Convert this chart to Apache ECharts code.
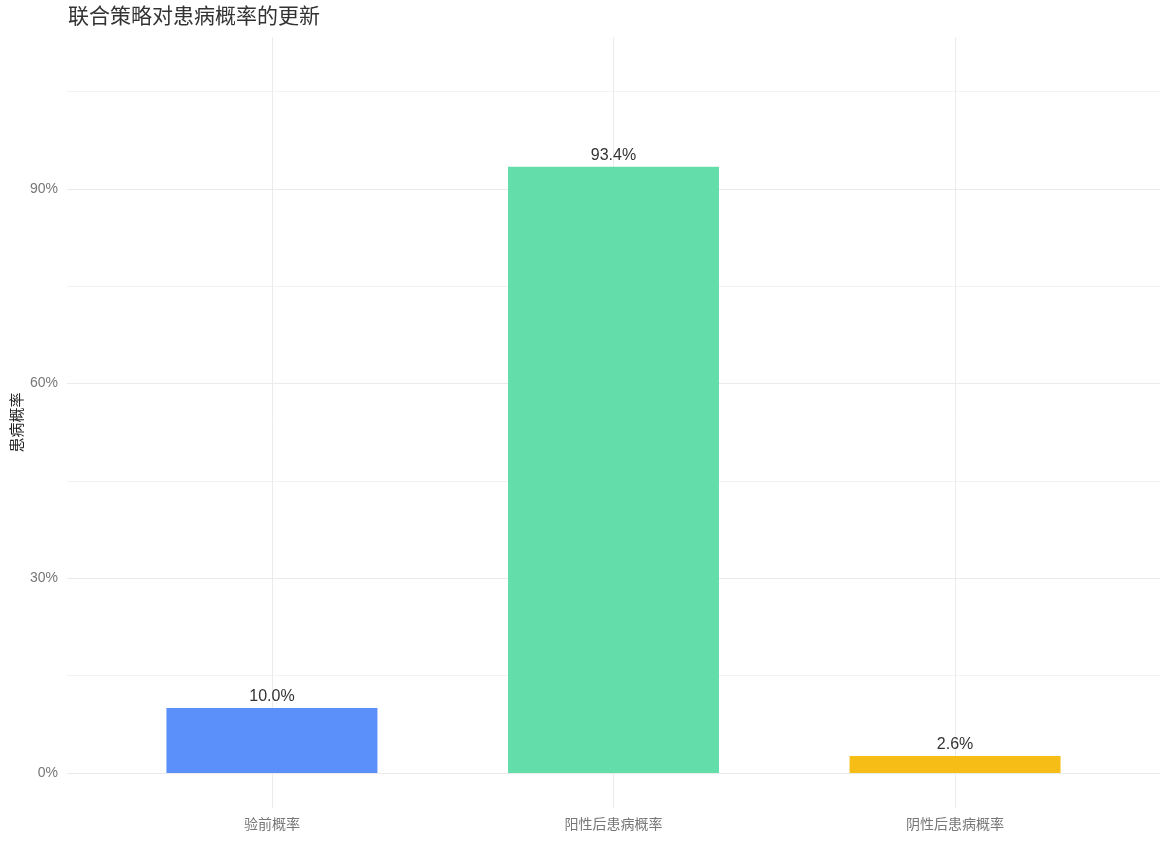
<!DOCTYPE html>
<html>
<head>
<meta charset="utf-8">
<script src="https://cdn.jsdelivr.net/npm/echarts@6/dist/echarts.min.js"></script>
<style>html,body{margin:0;padding:0;background:#fff;}#c{width:1171px;height:841px;}</style>
</head>
<body>
<div id="c"></div>
<script>
const categories = ['验前概率', '阳性后患病概率', '阴性后患病概率'];
const values = [10.0, 93.4, 2.6];
const barColors = ['#5B8FF9', '#63DEAA', '#F6BD16'];
const yMajorTicks = [0, 30, 60, 90];
const yMinorTicks = [15, 45, 75, 105];
const xPositions = categories.map((c, i) => i + 1);

const FONT = '"Liberation Sans", "Noto Sans CJK SC", sans-serif';
const chart = echarts.init(document.getElementById('c'));
chart.setOption({
  backgroundColor: '#fff',
  animation: false,
  textStyle: { fontFamily: FONT },
  title: {
    text: '联合策略对患病概率的更新',
    left: 63, top: 2,
    textStyle: { fontSize: 21, fontWeight: 'normal', color: '#333', fontFamily: FONT }
  },
  grid: { left: 67, right: 11, top: 37, bottom: 33, outerBoundsMode: 'none', containLabel: false },
  xAxis: {
    type: 'value', min: 0.4, max: 3.6,
    axisLine: { show: false },
    axisTick: { show: false, customValues: xPositions },
    axisLabel: {
      customValues: xPositions, margin: 10, fontSize: 14, color: '#777',
      formatter: v => categories[Math.round(v) - 1]
    },
    splitLine: { show: true, lineStyle: { color: '#EBEBEB', width: 1 } }
  },
  yAxis: [{
    type: 'value', min: -5.4, max: 113.4,
    axisLine: { show: false },
    axisTick: { show: false, customValues: yMajorTicks },
    axisLabel: { customValues: yMajorTicks, formatter: '{value}%', fontSize: 14, color: '#777', margin: 9 },
    splitLine: { show: true, lineStyle: { color: '#EBEBEB', width: 1.2 } }
  }, {
    type: 'value', min: -5.4, max: 113.4, position: 'left',
    name: '患病概率', nameLocation: 'middle', nameGap: 42, nameRotate: 90,
    nameTextStyle: { fontSize: 15, color: '#222', fontFamily: FONT },
    axisLine: { show: false },
    axisTick: { show: false, customValues: yMinorTicks },
    axisLabel: { show: false },
    splitLine: { show: true, lineStyle: { color: '#F2F2F2', width: 1 } }
  }],
  series: [{
    type: 'bar',
    barWidth: 211,
    data: values.map((v, i) => ({ value: [xPositions[i], v], itemStyle: { color: barColors[i] } })),
    label: {
      show: true, position: 'top', distance: 3,
      fontSize: 16, color: '#333', fontFamily: FONT,
      formatter: p => p.value[1].toFixed(1) + '%'
    }
  }]
});
</script>
</body>
</html>
